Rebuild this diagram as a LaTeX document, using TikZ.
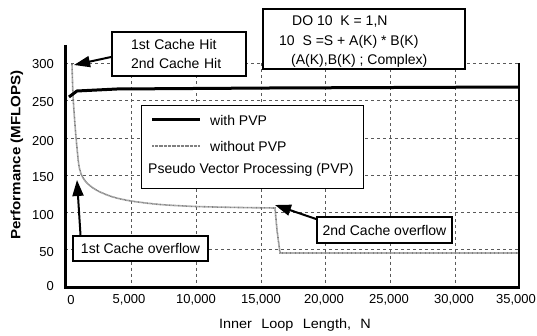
\documentclass[tikz,border=0pt]{standalone}
\usepackage{fontspec}
\setmainfont{Liberation Sans}
\usepackage{graphicx}
\usetikzlibrary{arrows.meta}
\begin{document}
\begin{tikzpicture}[x=1pt,y=-1pt,
  gridline/.style={draw=black!65, line width=0.6pt, dash pattern=on 3pt off 3pt},
  txt/.style={font=\fontsize{14}{19}\selectfont, inner sep=0pt},
  tick/.style={font=\fontsize{13}{15}\selectfont, inner sep=0pt},
  callout/.style={draw=black, line width=1.8pt, fill=white, font=\fontsize{14}{19}\selectfont, inner sep=0pt},
  pointer/.style={line width=2pt, -{Triangle[length=16pt,width=11pt]}},
  withpvp/.style={line width=3pt},
  withoutpvp/.style={draw=black!50, line width=1.6pt, dash pattern=on 0.8pt off 0.5pt},
  axisline/.style={line width=3pt, line join=miter},
]
\useasboundingbox (0,0) rectangle (537,336);
\fill[white] (0,0) rectangle (537,336);

% grid
\foreach \y in {63.5,100.75,138,175.25,212.5,249.75}
  \draw[gridline] (65,\y) -- (519,\y);
\foreach \x in {131,196,261,325,390,455}
  \draw[gridline] (\x,63.5) -- (\x,287);

% curves
\draw[withoutpvp] plot[smooth, tension=0.5] coordinates {(72,64) (73,95) (75,125) (77,148) (79,166) (82,176) (88,184) (98,191) (113,197) (131,201) (160,204.5) (196,206.5) (240,207.5) (275,208)}
  -- (277,230) -- (280,253) -- (519,253);
\draw[withpvp] (69,97) -- (77,91) -- (117,89) -- (270,88) -- (519,87);

% legend
\node[draw, line width=0.8pt, fill=white, minimum width=222pt, minimum height=83pt, inner sep=0pt] (legend) at (252,146.5) {};
\coordinate (lgA1) at (152,120); \coordinate (lgA2) at (200,120);
\coordinate (lgB1) at (152,146); \coordinate (lgB2) at (200,146);
\draw[withpvp] (lgA1) -- (lgA2);
\draw[withoutpvp] (lgB1) -- (lgB2);
\node[txt, anchor=west] (lgwith) at (210,120) {with PVP};
\node[txt, anchor=west] (lgwithout) at (210,146) {without PVP};
\node[txt, anchor=west] (lgpvp) at (148,170) {Pseudo Vector Processing (PVP)};

% callouts
\node[callout, minimum width=134pt, minimum height=44pt, align=left, text width=96pt] (hit) at (179,54)
  {1st Cache Hit\\2nd Cache Hit};
\node[callout, minimum width=202pt, minimum height=60pt] (code) at (364,39) {};
\node[txt, anchor=west] (code1) at (292,22) {DO 10\ \ K = 1,N};
\node[txt, anchor=west] (code2) at (279,42) {10\ \ S =S + A(K) * B(K)};
\node[txt, anchor=west] (code3) at (291,61) {(A(K),B(K) ; Complex)};
\node[callout, minimum width=135pt, minimum height=25pt] (ovfA) at (140.5,248.5) {1st Cache overflow};
\node[callout, minimum width=135pt, minimum height=26pt] (ovfB) at (384.5,230) {2nd Cache overflow};

\coordinate (hittip) at (74,65);
\coordinate (ovfAtip) at (77,180);
\coordinate (ovfBtip) at (275,205);
\draw[pointer] ([yshift=-3pt]hit.west) -- (hittip);
\draw[pointer] ([xshift=-60pt]ovfA.north) -- (ovfAtip);
\draw[pointer] ([yshift=11pt]ovfB.west) -- (ovfBtip);

% axes
\draw[axisline] (65,45) -- (65,287) -- (519,287);
\draw[line width=2.5pt] (519,63) -- (519,288.5);

% tick labels
\foreach \v/\y in {300/64,250/102,200/141,150/177,100/215,50/252,0/286}
  \node[tick, anchor=east] (yt\v) at (54,\y) {\v};
\foreach \lab/\x in {0/71,5/129,10/196,15/261,20/324,25/389,30/454,35/516}
  \node[tick] (xt\lab) at (\x,300) {\ifnum\lab=0 0\else\lab,000\fi};

% axis labels
\node[rotate=90, inner sep=0pt, font=\bfseries\fontsize{13.5}{16}\selectfont] (ylab) at (17,155)
  {\scalebox{1.12}[1]{Performance (MFLOPS)}};
\node[inner sep=0pt, font=\fontsize{13.5}{16}\selectfont] (xlab) at (295,325)
  {\scalebox{1.07}[1]{Inner\hspace{5pt} Loop\hspace{5pt} Length,\hspace{5pt} N}};
\end{tikzpicture}
\end{document}
